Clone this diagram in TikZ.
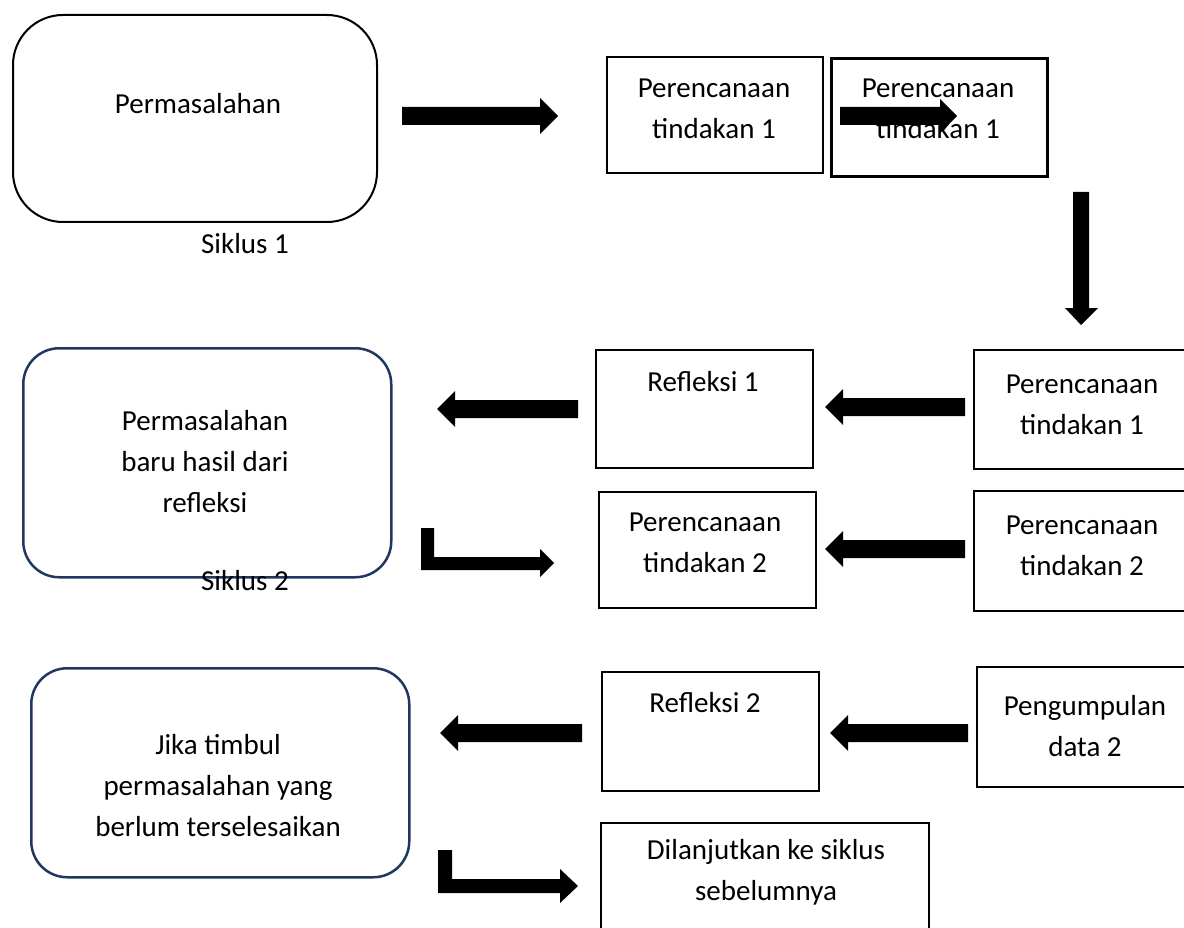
\documentclass[tikz,border=0pt]{standalone}
\usepackage{fontspec}
\setmainfont{Carlito}
\definecolor{navy}{RGB}{31,56,96}
\newcommand\RArrow[3]{\fill (#1,#3-9) -- (#2-18,#3-9) -- (#2-18,#3-18) -- (#2,#3) -- (#2-18,#3+18) -- (#2-18,#3+9) -- (#1,#3+9) -- cycle;}
\newcommand\LArrow[3]{\fill (#2,#3-9) -- (#1+18,#3-9) -- (#1+18,#3-18) -- (#1,#3) -- (#1+18,#3+18) -- (#1+18,#3+9) -- (#2,#3+9) -- cycle;}
\tikzset{
  every node/.style={font=\fontsize{29}{41}\selectfont, inner sep=0pt},
  box/.style={draw=black, line width=2pt, rectangle, anchor=north west},
  rbox/.style={draw=black, line width=2pt, rectangle, rounded corners=50pt, anchor=north west},
  bbox/.style={draw=navy, line width=2.5pt, rectangle, rounded corners=36pt, anchor=north west},
  txt/.style={align=center, text=black},
}
\begin{document}
\begin{tikzpicture}[x=1pt,y=-1pt]
\clip (0,0) rectangle (1184,928);
\fill[white] (0,0) rectangle (1184,928);
% row 1
\node[rbox, minimum width=364, minimum height=207] (r1) at (12,14) {};
\node[txt] (t1) at (198,104) {Permasalahan};
\node[txt] (s1) at (245,244) {Siklus 1};
\RArrow{402}{558}{116}
\node[box, minimum width=216, minimum height=116] (b1) at (606,56) {};
\node[txt] (t2) at (714,109) {Perencanaan\\tindakan 1};
\node[box, line width=3pt, minimum width=216, minimum height=118] (b2) at (830,57) {};
\node[txt] (t3) at (938,109) {Perencanaan\\tindakan 1};
\fill (840,107) -- (940,107) -- (940,99) -- (957,116) -- (940,133) -- (940,125) -- (840,125) -- cycle;
% down arrow
\fill (1073,192) -- (1089,192) -- (1089,308) -- (1098,308) -- (1081,325) -- (1065,308) -- (1073,308) -- cycle;
% row 2
\node[box, minimum width=217, minimum height=119] (b3) at (973,349) {};
\node[txt] (t4) at (1082,405) {Perencanaan\\tindakan 1};
\node[box, minimum width=217, minimum height=118] (b4) at (595,349) {};
\node[txt] (t5) at (703,382) {Refleksi 1};
\LArrow{825}{965}{407}
\LArrow{437}{578}{409}
\node[bbox, minimum width=368, minimum height=229] (r2) at (22,347) {};
\node[txt] (t6) at (205,462) {Permasalahan\\baru hasil dari\\refleksi};
\node[txt] (s2) at (245,581) {Siklus 2};
\fill (421,528) -- (434,528) -- (434,557) -- (540,557) -- (540,549) -- (554,563) -- (540,577) -- (540,570) -- (421,570) -- cycle;
\node[box, minimum width=217, minimum height=116] (b5) at (598,491) {};
\node[txt] (t7) at (705,543) {Perencanaan\\tindakan 2};
\node[box, minimum width=217, minimum height=120] (b6) at (973,490) {};
\node[txt] (t8) at (1082,546) {Perencanaan\\tindakan 2};
\LArrow{825}{965}{549}
% row 3
\node[bbox, minimum width=378, minimum height=209] (r3) at (30,667) {};
\node[txt] (t9) at (218,786) {Jika timbul\\permasalahan yang\\berlum terselesaikan};
\LArrow{440}{582}{733}
\node[box, minimum width=217, minimum height=119] (b7) at (601,671) {};
\node[txt] (t10) at (705,703) {Refleksi 2};
\LArrow{830}{968}{733}
\node[box, minimum width=214, minimum height=120] (b8) at (976,666) {};
\node[txt] (t11) at (1085,726) {Pengumpulan\\data 2};
\fill (438,850) -- (452,850) -- (452,879) -- (560,879) -- (560,869) -- (578,886) -- (560,903) -- (560,893) -- (438,893) -- cycle;
\node[box, minimum width=328, minimum height=118] (b9) at (600,822) {};
\node[txt] (t12) at (766,872) {Dilanjutkan ke siklus\\sebelumnya};
\end{tikzpicture}
\end{document}
